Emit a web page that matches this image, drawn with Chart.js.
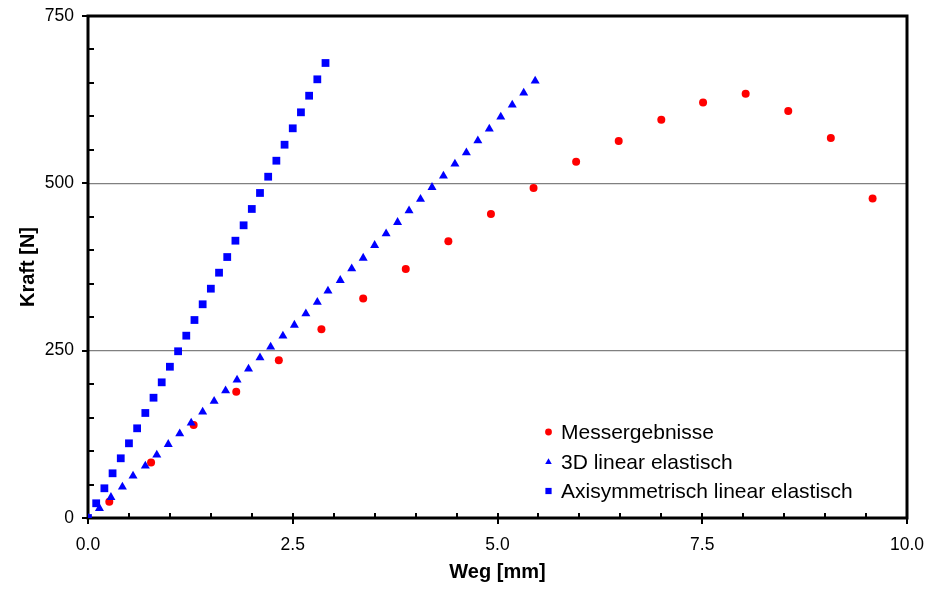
<!DOCTYPE html>
<html>
<head>
<meta charset="utf-8">
<title>Kraft-Weg</title>
<script src="https://cdn.jsdelivr.net/npm/chart.js@4.4.0/dist/chart.umd.min.js"></script>
<style>
  html, body { margin: 0; padding: 0; background: #fff; }
  #myChart { display: block; }
</style>
</head>
<body>
<canvas id="myChart" width="931" height="592"></canvas>
<script>
// Messergebnisse (Versuch)
const wegMess = [0.26, 0.77, 1.29, 1.81, 2.33, 2.85, 3.36, 3.88, 4.40, 4.92,
  5.44, 5.96, 6.48, 7.00, 7.51, 8.03, 8.55, 9.07, 9.58];
const kraftMess = [24.3, 83.1, 138.8, 188.5, 235.8, 282.1, 327.9, 372.1, 413.4, 454.2,
  493.0, 532.4, 563.1, 595.1, 620.9, 633.9, 607.9, 567.6, 477.2];

// FE-Modell 3D, linear elastisch
const weg3D = [0, 0.14, 0.28, 0.42, 0.55, 0.70, 0.84, 0.98, 1.12, 1.26,
  1.40, 1.54, 1.68, 1.82, 1.96, 2.10, 2.23, 2.38, 2.52, 2.66,
  2.80, 2.93, 3.08, 3.22, 3.36, 3.50, 3.64, 3.78, 3.92, 4.06,
  4.20, 4.34, 4.48, 4.62, 4.76, 4.90, 5.04, 5.18, 5.32, 5.46];
const kraft3D = [0, 14.5, 30.9, 46.3, 62.8, 77.7, 94.1, 110.1, 125.9, 141.9,
  158.4, 174.4, 190.2, 206.2, 222.6, 239.5, 255.5, 271.9, 288.3, 305.2,
  322.3, 339.2, 355.1, 372.5, 388.4, 407.4, 424.8, 441.8, 459.1, 476.2,
  494.1, 511.0, 528.9, 545.8, 563.7, 581.2, 599.1, 617.0, 635.0, 652.9];

// FE-Modell axisymmetrisch, linear elastisch
const wegAxi = [0, 0.1, 0.2, 0.3, 0.4, 0.5, 0.6, 0.7, 0.8, 0.9,
  1.0, 1.1, 1.2, 1.3, 1.4, 1.5, 1.6, 1.7, 1.8, 1.9,
  2.0, 2.1, 2.2, 2.3, 2.4, 2.5, 2.6, 2.7, 2.8, 2.9];
const kraftAxi = [0, 22.0, 44.4, 66.8, 89.2, 111.6, 134.0, 156.9, 179.7, 202.7,
  226.0, 249.1, 272.4, 295.8, 319.3, 342.6, 366.5, 389.9, 414.3, 437.3,
  461.7, 485.6, 509.9, 533.8, 557.7, 582.2, 606.1, 630.9, 655.4, 679.8];

const seriesNames = ["Messergebnisse", "3D linear elastisch", "Axisymmetrisch linear elastisch"];

const xTicks = [0, 2.5, 5, 7.5, 10];
const yTicks = [0, 250, 500, 750];

const fontFamily = "'Liberation Sans', Arial, sans-serif";

function toPoints(xs, ys) {
  return xs.map((v, i) => ({ x: v, y: ys[i] }));
}

// axis box plus major/minor tick marks (Excel style)
const axisFrame = {
  id: "axisFrame",
  beforeDatasetsDraw(chart) {
    const { ctx, chartArea: a, scales: { x, y } } = chart;
    ctx.save();
    ctx.strokeStyle = "#000";
    ctx.lineWidth = 2;
    ctx.beginPath();
    for (let v = 0; v <= 750; v += 50) {
      const py = Math.round(y.getPixelForValue(v));
      if (v % 250 === 0) {
        ctx.moveTo(a.left - 6, py);
        ctx.lineTo(a.left, py);
      } else {
        ctx.moveTo(a.left, py);
        ctx.lineTo(a.left + 6, py);
      }
    }
    for (let i = 0; i <= 20; i++) {
      const px = Math.round(x.getPixelForValue(i * 0.5));
      if (i % 5 === 0) {
        ctx.moveTo(px, a.bottom - 5);
        ctx.lineTo(px, a.bottom + 6);
      } else {
        ctx.moveTo(px, a.bottom - 5);
        ctx.lineTo(px, a.bottom);
      }
    }
    ctx.stroke();
    ctx.lineWidth = 3;
    ctx.strokeRect(a.left, a.top, a.right - a.left, a.bottom - a.top);
    ctx.restore();
  },
};

// legend sits inside the plot, lower right
const innerLegend = {
  id: "innerLegend",
  afterDatasetsDraw(chart) {
    const { ctx } = chart;
    const rows = [
      { style: "circle", r: 3.4, y: 432 },
      { style: "triangle", r: 3.8, y: 462 },
      { style: "rect", r: 4.4, y: 491 },
    ];
    ctx.save();
    ctx.font = "21px " + fontFamily;
    ctx.textBaseline = "middle";
    ctx.textAlign = "left";
    rows.forEach((row, i) => {
      const ds = chart.data.datasets[i];
      ctx.fillStyle = ds.backgroundColor;
      ctx.strokeStyle = ds.backgroundColor;
      ctx.lineWidth = 0;
      Chart.helpers.drawPoint(ctx, { pointStyle: row.style, radius: row.r, borderWidth: 0, rotation: 0 }, 548.5, row.y);
      ctx.fillStyle = "#000";
      ctx.fillText(seriesNames[i], 561, row.y + 1);
    });
    ctx.restore();
  },
};

const data = {
  datasets: [
    {
      label: seriesNames[0],
      data: toPoints(wegMess, kraftMess),
      backgroundColor: "#ff0000",
      borderColor: "#ff0000",
      pointStyle: "circle",
      pointRadius: 4,
      pointBorderWidth: 0,
      order: 2,
    },
    {
      label: seriesNames[1],
      data: toPoints(weg3D, kraft3D),
      backgroundColor: "#0000ff",
      borderColor: "#0000ff",
      pointStyle: "triangle",
      pointRadius: 5.2,
      pointBorderWidth: 0,
      order: 1,
    },
    {
      label: seriesNames[2],
      data: toPoints(wegAxi, kraftAxi),
      backgroundColor: "#0000ff",
      borderColor: "#0000ff",
      pointStyle: "rect",
      pointRadius: 5.5,
      pointBorderWidth: 0,
      order: 0,
    },
  ],
};

const config = {
  type: "scatter",
  data,
  options: {
    responsive: false,
    animation: false,
    devicePixelRatio: 1,
    layout: { padding: { top: 16, right: 24, left: 0, bottom: 0 } },
    plugins: {
      legend: { display: false },
      tooltip: { enabled: false },
    },
    scales: {
      x: {
        type: "linear",
        min: 0,
        max: 10,
        afterBuildTicks: (axis) => { axis.ticks = xTicks.map((v) => ({ value: v })); },
        afterFit: (axis) => {
          axis.height = 74;
          axis.paddingLeft = 0;
          axis.paddingRight = 0;
        },
        grid: { display: false, drawTicks: false },
        border: { display: false },
        ticks: {
          padding: 16.5,
          color: "#000",
          font: { family: fontFamily, size: 17.5 },
          maxRotation: 0,
          callback: (v) => Number(v).toFixed(1),
        },
        title: {
          display: true,
          text: "Weg [mm]",
          color: "#000",
          font: { family: fontFamily, size: 20, weight: "bold" },
          padding: { top: 0, bottom: 8 },
        },
      },
      y: {
        type: "linear",
        min: 0,
        max: 750,
        afterBuildTicks: (axis) => { axis.ticks = yTicks.map((v) => ({ value: v })); },
        afterFit: (axis) => {
          axis.width = 88;
          axis.paddingTop = 0;
          axis.paddingBottom = 0;
        },
        grid: {
          drawTicks: false,
          lineWidth: 1.2,
          color: (c) => (c.tick && c.tick.value > 0 && c.tick.value < 750 ? "#808080" : "rgba(0,0,0,0)"),
        },
        border: { display: false },
        ticks: {
          padding: 14,
          color: "#000",
          font: { family: fontFamily, size: 17.5 },
          callback: (v) => String(v),
        },
        title: {
          display: true,
          text: "Kraft [N]",
          color: "#000",
          font: { family: fontFamily, size: 20, weight: "bold" },
          padding: { top: 16, bottom: 0 },
        },
      },
    },
  },
  plugins: [axisFrame, innerLegend],
};

const myChart = new Chart(document.getElementById("myChart"), config);
</script>
</body>
</html>
